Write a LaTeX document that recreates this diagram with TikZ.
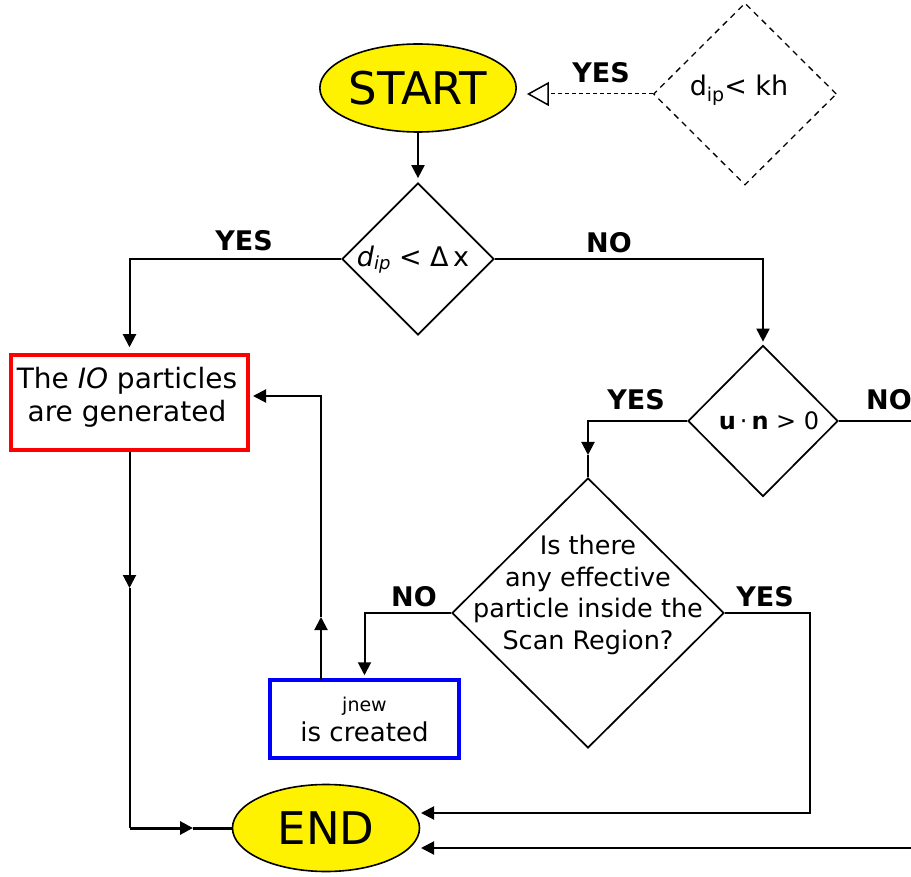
\documentclass[tikz,border=0pt]{standalone}
\usepackage{fontspec}
\setmainfont{DejaVu Sans}
\usetikzlibrary{arrows.meta,shapes.geometric,calc}
\begin{document}
\begin{tikzpicture}[x=1pt,y=-1pt,line width=2pt,
  tip/.style={-{Triangle[length=13pt,width=13pt]}},
  dia/.style={draw,shape=diamond,inner sep=0pt,line width=1.7pt},
  lab/.style={font=\fontsize{27}{32}\selectfont\bfseries},
  term/.style={draw,ellipse,fill=yellow,inner sep=0pt,line width=1.6pt,font=\fontsize{45}{54}\selectfont},
]
\useasboundingbox (0,0) rectangle (911,877);
% terminals
\node[term,minimum width=188pt,minimum height=88pt] (start) at (418,88) {START};
\node[term,minimum width=187pt,minimum height=87pt] (end) at (326,828) {END};
% diamonds
\node[dia,dash pattern=on 6pt off 5pt,line width=1.3pt,minimum width=183pt,minimum height=182pt] (dk) at (745,94) {};
\node[font=\fontsize{27}{32}\selectfont] (dkt) at (739,90) {d\raisebox{-6pt}{\fontsize{19}{22}\selectfont ip}< kh};
\node[dia,minimum width=152pt,minimum height=152pt] (d1) at (418,259) {};
\node[font=\fontsize{27}{32}\selectfont] (d1t) at (413,260) {\textit{d}\raisebox{-3pt}{\fontsize{18}{20}\selectfont\textit{ip}} < Δ\,x};
\node[dia,minimum width=150pt,minimum height=151pt] (un) at (763,421) {};
\node[font=\fontsize{24}{28}\selectfont] (unt) at (769,421) {\textbf{u}\,·\,\textbf{n} > 0};
\node[dia,minimum width=272pt,minimum height=270pt] (big) at (588,613) {};
\node[font=\fontsize{25.5}{31.7}\selectfont,align=center] (bigt) at (588,595) {Is there\\any effective\\particle inside the\\Scan Region?};
% boxes
\node[draw=red,line width=3.5pt,minimum width=237pt,minimum height=95pt,inner sep=0pt] (io) at (129.5,402.5) {};
\node[align=center,font=\fontsize{28}{33}\selectfont] (iot) at (127,397) {The \textit{IO} particles\\are generated};
\node[draw=blue,line width=3.5pt,minimum width=189pt,minimum height=78pt,inner sep=0pt,align=center,font=\fontsize{26}{30}\selectfont] (jn) at (364.5,719) {{\fontsize{19}{22}\selectfont jnew}\\is created};
% labels
\node[lab] (l1) at (601,73) {YES};
\node[lab] (l2) at (244,241) {YES};
\node[lab] (l3) at (609,243) {NO};
\node[lab] (l4) at (636,400) {YES};
\node[lab] (l5) at (889,400) {NO};
\node[lab] (l6) at (414,597) {NO};
\node[lab] (l7) at (765,597) {YES};
% coordinates
\coordinate (m1) at (588,455);
\coordinate (unR) at (911,421);
\coordinate (bR) at (810,813);
\coordinate (e1) at (421,813);
\coordinate (e2) at (421,848);
\coordinate (rb) at (911,848);
\coordinate (jup) at (321,680);
\coordinate (ja) at (321,617);
\coordinate (jb) at (321,396);
\coordinate (ioR) at (253,396);
\coordinate (iod) at (129.5,588);
\coordinate (c2) at (129.5,828);
\coordinate (c3) at (193,828);
% connectors
\draw[dash pattern=on 4pt off 3pt,line width=1pt,-{Triangle[open,length=22pt,width=24pt,line width=1.5pt]},shorten >=10pt] (dk.west) -- (dk.west -| start.east);
\draw[tip,shorten >=4pt] (start.south) -- (start.south |- d1.north);
\draw[tip,shorten >=6pt] (d1.west) -| (io.north);
\draw[tip,shorten >=3pt] (d1.east) -| (un.north);
\draw[tip] (un.west) -| (m1);
\draw (m1) -- (big.north);
\draw (un.east) -- (unR);
\draw[tip,shorten >=3pt] (big.west) -| (jn.north);
\draw[tip] (big.east) -| (bR) -- (e1);
\draw[tip] (rb) -- (e2);
\draw[tip] (jup) -- (ja);
\draw[tip] (ja) -- (jb) -- (ioR);
\draw[tip] (io.south) -- (iod);
\draw (iod) -- (c2);
\draw[line width=3pt,tip] (c2) -- (c3);
\draw[line width=3pt] (c3) -- (end.west);
\end{tikzpicture}
\end{document}
